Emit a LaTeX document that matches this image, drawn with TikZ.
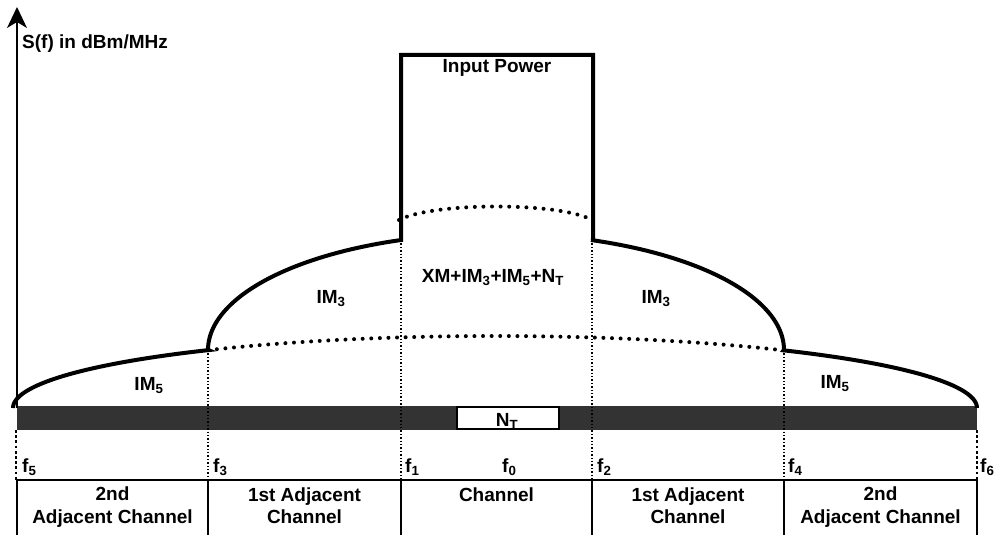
\documentclass[tikz,border=0pt]{standalone}
\usepackage{fontspec}
\setmainfont{Liberation Sans}
\usetikzlibrary{arrows.meta}
\begin{document}
\begin{tikzpicture}[x=1pt,y=-1pt,
  font=\fontsize{19}{23}\selectfont\bfseries,
  curveline/.style={line width=4pt, line join=miter},
  fline/.style={line width=1.4pt, dash pattern=on 1.4pt off 2pt},
  edgefline/.style={line width=2.8pt, dash pattern=on 2.8pt off 2.4pt},
  dotarc/.style={line width=4pt, dash pattern=on 0pt off 8.6pt, line cap=round},
  tabline/.style={line width=1.3pt},
  lbl/.style={inner sep=0pt, anchor=base},
  flbl/.style={inner sep=0pt, anchor=base west}]
\useasboundingbox (0,0) rectangle (997,535);

% coordinates
\coordinate (axtop) at (17,7);
\coordinate (axbot) at (17,408);
\foreach \n/\x in {f5/17,f3/208,f1/401,f2/592,f4/784,f6/977}{
  \coordinate (\n tab) at (\x,480);
  \coordinate (\n bot) at (\x,535);
}
\coordinate (f3top) at (208,350);
\coordinate (f1top) at (401,240);
\coordinate (f2top) at (592,240);
\coordinate (f4top) at (784,350);
\coordinate (f5band) at (16,430);
\coordinate (f6band) at (977,430);

% band
\fill[black!80] (17,406) rectangle (977,430);
\node[draw, fill=white, line width=1.3pt, minimum width=102pt, minimum height=22pt, inner sep=0pt] (ntbox) at (508,418) {};
\node[lbl] (nt) at (507,426) {N\textsubscript{T}};

% vertical dotted lines
\draw[fline] (f3top) -- (f3tab);
\draw[fline] (f1top) -- (f1tab);
\draw[fline] (f2top) -- (f2tab);
\draw[fline] (f4top) -- (f4tab);
\draw[edgefline] (f5band) -- (16,480);
\draw[edgefline] (f6band) -- (f6tab);

% axis
\draw[line width=1.3pt, -{Stealth[length=21pt,width=20pt,inset=6pt]}] (axbot) -- (axtop);
\node[flbl] (ylab) at (22,49) {S(f) in dBm/MHz};

% dotted arcs
\draw[dotarc] plot[domain=126.5:53.2, samples=80] ({495+482*cos(\x)}, {408-72*sin(\x)});
\draw[dotarc] (399,220) .. controls (433,202) and (560,202) .. (592,220);

% spectrum outline
\draw[curveline]
  plot[domain=180:126.5, samples=60] ({495+482*cos(\x)}, {408-72*sin(\x)})
  -- plot[domain=180:109.26, samples=60] ({496+288*cos(\x)}, {350-116.5*sin(\x)})
  -- (401,55) -- (593,55) -- (593,240)
  -- plot[domain=70.74:0, samples=60] ({496+288*cos(\x)}, {350-116.5*sin(\x)})
  -- plot[domain=53.2:0, samples=60] ({495+482*cos(\x)}, {408-72*sin(\x)});

% region labels
\node[lbl] (inp) at (497,73) {Input Power};
\node[lbl] (xm) at (493,282) {XM+IM\textsubscript{3}+IM\textsubscript{5}+N\textsubscript{T}};
\node[lbl] (im3l) at (331,303) {IM\textsubscript{3}};
\node[lbl] (im3r) at (656,303) {IM\textsubscript{3}};
\node[lbl] (im5l) at (149,390) {IM\textsubscript{5}};
\node[lbl] (im5r) at (835,388) {IM\textsubscript{5}};

% frequency labels
\node[flbl] (lf5) at (22,472) {f\textsubscript{5}};
\node[flbl] (lf3) at (213,472) {f\textsubscript{3}};
\node[flbl] (lf1) at (405,472) {f\textsubscript{1}};
\node[flbl] (lf0) at (502,472) {f\textsubscript{0}};
\node[flbl] (lf2) at (597,472) {f\textsubscript{2}};
\node[flbl] (lf4) at (788,472) {f\textsubscript{4}};
\node[flbl] (lf6) at (980,472) {f\textsubscript{6}};

% table
\draw[tabline] (f5tab) -- (f6tab);
\foreach \n in {f5,f3,f1,f2,f4,f6}{
  \draw[tabline] (\n tab) -- (\n bot);
}
\node[lbl] (c1a) at (112.5,500) {2nd};
\node[lbl] (c1b) at (112.5,523) {Adjacent Channel};
\node[lbl] (c2a) at (304.5,501) {1st Adjacent};
\node[lbl] (c2b) at (304.5,523) {Channel};
\node[lbl] (c3a) at (496.5,501) {Channel};
\node[lbl] (c4a) at (688,501) {1st Adjacent};
\node[lbl] (c4b) at (688,523) {Channel};
\node[lbl] (c5a) at (880.5,500) {2nd};
\node[lbl] (c5b) at (880.5,523) {Adjacent Channel};
\end{tikzpicture}
\end{document}
